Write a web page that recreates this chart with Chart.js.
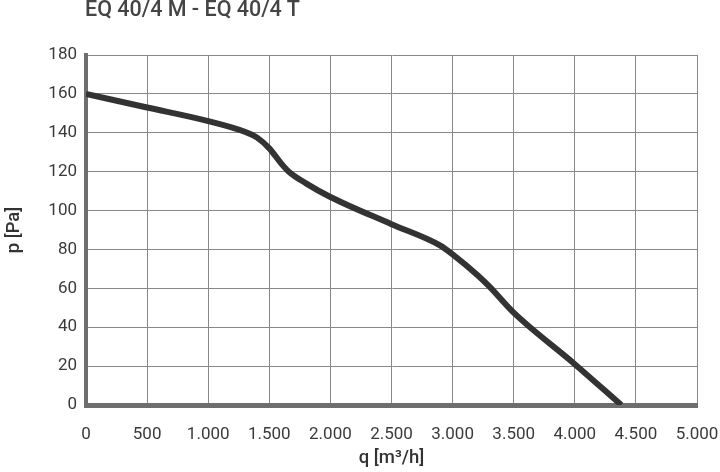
<!DOCTYPE html>
<html>
<head>
<meta charset="utf-8">
<script src="https://cdn.jsdelivr.net/npm/chart.js@4.4.1/dist/chart.umd.min.js"></script>
<style>
  body { margin: 0; background: #fff; }
  #wrap { position: relative; width: 720px; height: 472px; }
  #title { position: absolute; left: 85px; top: -4px; font: 500 21.5px Roboto, "Liberation Sans", sans-serif; color: #444; }
</style>
</head>
<body>
<div id="wrap">
  <div id="title">EQ 40/4 M - EQ 40/4 T</div>
  <canvas id="myChart" width="720" height="472"></canvas>
</div>
<script>
// curve
let flow = [0, 500, 1000, 1300, 1400, 1500, 1600, 1660, 1800, 2000, 2500, 2900, 3000, 3200, 3300, 3500, 4000, 4380]
let pressure = [160, 153, 146, 140.5, 137.5, 132, 124, 120, 114, 107, 93, 82, 77.5, 67, 61, 47.5, 21, 0]

let yTicks = [0, 20, 40, 60, 80, 100, 120, 140, 160, 180]

let points = []
for (let i = 0; i < flow.length; i++) {
    points.push({x: flow[i], y: pressure[i]})
}

var ctx = document.getElementById('myChart')
var font = {family: 'Roboto, "Liberation Sans", sans-serif', size: 17}
var titleFont = {family: 'Roboto, "Liberation Sans", sans-serif', size: 18.5, weight: '500'}

var myChart = new Chart(ctx, {
    type: 'scatter',
    data: {
        datasets: [{
            data: points,
            showLine: true,
            borderColor: '#333333',
            borderWidth: 6,
            pointRadius: 0,
            cubicInterpolationMode: 'monotone'
        }]
    },
    options: {
        responsive: false,
        animation: false,
        layout: {padding: {top: 55, right: 0, left: 0, bottom: 0}},
        plugins: {legend: {display: false}, tooltip: {enabled: false}},
        scales: {
            x: {
                type: 'linear',
                min: 0,
                max: 5000,
                afterFit: s => { s.height = 67; s.paddingRight = 23; s.paddingLeft = 0 },
                ticks: {
                    stepSize: 500,
                    color: '#3a3a3a',
                    font: font,
                    padding: 20,
                    callback: v => v.toLocaleString('de-DE')
                },
                grid: {color: '#888', lineWidth: 1, drawTicks: false},
                border: {display: true, color: '#6e6e6e', width: 5},
                title: {display: true, text: 'q [m³/h]', color: '#333', font: titleFont, padding: {top: 4, bottom: 3}}
            },
            y: {
                min: 0,
                max: 180,
                afterFit: s => { s.width = 86 },
                afterBuildTicks: s => { s.ticks = yTicks.map(v => ({value: v})) },
                ticks: {color: '#3a3a3a', font: font, padding: 9},
                grid: {color: '#888', lineWidth: 1, drawTicks: false},
                border: {display: true, color: '#6e6e6e', width: 4},
                title: {display: true, text: 'p [Pa]', color: '#333', font: titleFont, padding: {top: 3, bottom: 4}}
            }
        }
    }
})
</script>
</body>
</html>
